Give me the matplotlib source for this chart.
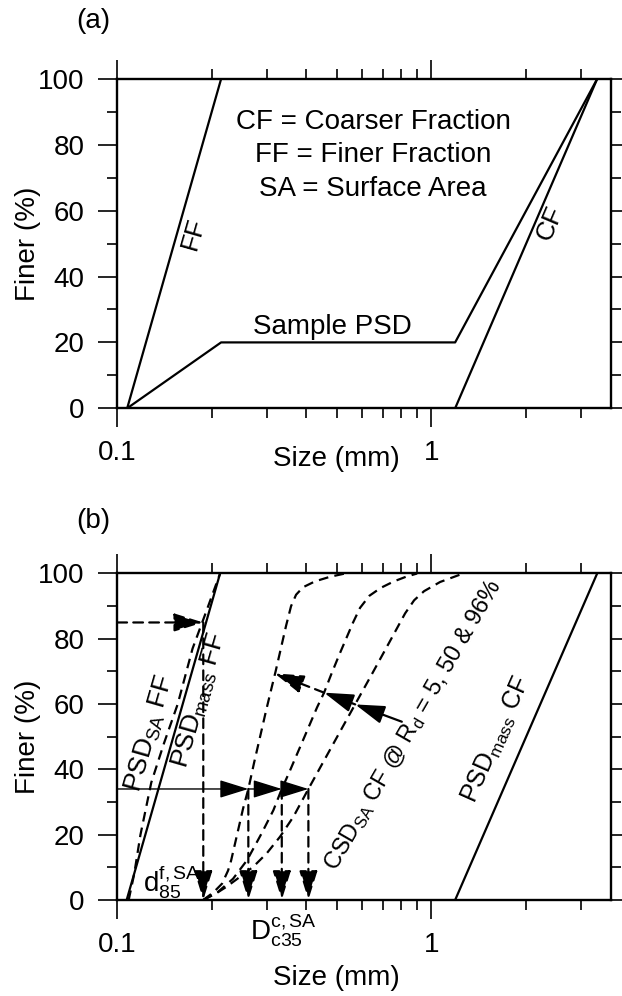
import matplotlib
matplotlib.use('Agg')
import matplotlib.pyplot as plt
from matplotlib.ticker import NullFormatter

plt.rcParams['font.family'] = ['Liberation Sans', 'DejaVu Sans']
plt.rcParams['mathtext.fontset'] = 'custom'
plt.rcParams['mathtext.rm'] = 'Liberation Sans'
plt.rcParams['mathtext.it'] = 'Liberation Sans'
plt.rcParams['mathtext.default'] = 'regular'
plt.rcParams['lines.scale_dashes'] = False
plt.rcParams['font.size'] = 20

#---------------------
# data, panel (a)
#---------------------
ff_a_x = [0.1075, 0.214]
ff_a_y = [0, 100]
sample_x = [0.1075, 0.214, 1.19, 3.37]
sample_y = [0, 20, 20, 100]
cf_a_x = [1.19, 3.37]
cf_a_y = [0, 100]

#---------------------
# data, panel (b)
#---------------------
psd_sa_ff_x = [0.1071, 0.2124]
psd_sa_ff_y = [0, 100]
psd_mass_ff_x = [0.1087, 0.1132, 0.1185, 0.1283, 0.1408, 0.1557, 0.1736, 0.1913, 0.2124]
psd_mass_ff_y = [0, 8, 20, 36, 48, 60, 77, 88, 100]
psd_mass_cf_x = [1.19, 3.37]
psd_mass_cf_y = [0, 100]

# CSD_SA of coarse fraction at Rd = 5, 50, 96 %
csd5_x = [0.1878, 0.2032, 0.2155, 0.2252, 0.2302, 0.2406, 0.2514, 0.2613, 0.2725, 0.2848,
          0.2976, 0.3099, 0.3191, 0.3298, 0.3446, 0.3574, 0.3708, 0.3904, 0.4263, 0.4757, 0.5312]
csd5_y = [0, 2.5, 5, 9, 12, 20, 28, 34, 42, 50, 58, 65, 70, 76, 84, 90, 93.5, 95.8, 97.6, 99, 100]
csd50_x = [0.1878, 0.2093, 0.2336, 0.2589, 0.2884, 0.3140, 0.3339, 0.3523, 0.3708, 0.3904, 0.4109,
           0.4325, 0.4553, 0.4793, 0.5083, 0.5350, 0.5631, 0.5928, 0.6350, 0.6900, 0.7600, 0.8300, 0.9005]
csd50_y = [0, 2.5, 6.5, 12.2, 20.5, 27.5, 34, 39, 44, 49, 54, 59, 63.5, 69, 75, 80, 85, 89.5,
           93.2, 95.6, 97.6, 99, 100]
csd96_x = [0.1878, 0.2062, 0.2231, 0.2459, 0.2711, 0.2991, 0.3298, 0.3636, 0.4058, 0.4421, 0.4973,
           0.5715, 0.6475, 0.7334, 0.8248, 0.8810, 0.9479, 1.0659, 1.2618]
csd96_y = [0, 2, 4.1, 7.1, 10.2, 14.3, 19.4, 25.5, 34, 40.5, 49.4, 59.9, 69.3, 78.8, 87.8, 91.8,
           94.6, 97.4, 100]

# d85 of fine fraction and D35 of the three CSD curves
d85 = 0.1878
d85_level = 85
dc35 = [0.2613, 0.3339, 0.4058]
dc35_level = 34

# arrow along increasing Rd (start, then tips on 96, 50, 5 % curves)
rd_arrow_x = [0.805, 0.5719, 0.4553, 0.3168]
rd_arrow_y = [54.6, 59.9, 63.5, 69.4]

minor_x = [0.2, 0.3, 0.4, 0.5, 0.6, 0.7, 0.8, 0.9, 2, 3]

#---------------------
# figure
#---------------------
fig = plt.figure(figsize=(6.22, 9.96), dpi=100)
ax_a = fig.add_axes([0.1886, 0.5901, 0.7937, 0.3306])
ax_b = fig.add_axes([0.1886, 0.0964, 0.7937, 0.3278])

LW = 1.6
DASH = (0, (7, 4.5))


def style_axes(ax):
    ax.set_xscale('log')
    ax.set_xlim(0.1, 3.73)
    ax.set_ylim(0, 100)
    ax.set_xticks([0.1, 1], ['0.1', '1'])
    ax.set_xticks(minor_x, minor=True)
    ax.xaxis.set_minor_formatter(NullFormatter())
    ax.set_yticks(range(0, 101, 20))
    ax.set_yticks(range(10, 100, 20), minor=True)
    ax.tick_params(which='both', direction='out', top=True, right=True, width=1.2, color='k')
    ax.tick_params(which='major', length=13.7, pad=9)
    ax.tick_params(axis='y', which='major', pad=10)
    ax.tick_params(which='minor', length=7.2)
    for s in ax.spines.values():
        s.set_linewidth(1.7)
    ax.set_ylabel('Finer (%)')
    ax.yaxis.set_label_coords(-0.155, 0.5)


def arrow(ax, x0, y0, x1, y1, ls='-', lw=LW):
    ax.annotate('', xy=(x1, y1), xytext=(x0, y0), annotation_clip=False,
                arrowprops=dict(arrowstyle='-|>,head_length=0.9,head_width=0.28',
                                mutation_scale=20, shrinkA=0, shrinkB=0,
                                lw=lw, ls=ls, color='k', fc='k'))


# (a)
style_axes(ax_a)
ax_a.plot(ff_a_x, ff_a_y, 'k-', lw=LW)
ax_a.plot(sample_x, sample_y, 'k-', lw=LW)
ax_a.plot(cf_a_x, cf_a_y, 'k-', lw=LW)
ax_a.set_xlabel('Size (mm)')
ax_a.xaxis.set_label_coords(0.443, -0.115)

tr = ax_a.transAxes
ax_a.text(0.518, 0.870, 'CF = Coarser Fraction', transform=tr, ha='center', va='center')
ax_a.text(0.518, 0.769, 'FF = Finer Fraction', transform=tr, ha='center', va='center')
ax_a.text(0.518, 0.667, 'SA = Surface Area', transform=tr, ha='center', va='center')
ax_a.text(0.436, 0.247, 'Sample PSD', transform=tr, ha='center', va='center')
ax_a.text(0.154, 0.530, 'FF', transform=tr, ha='center', va='center', rotation=74,
          rotation_mode='anchor', fontsize=19)
ax_a.text(0.876, 0.561, 'CF', transform=tr, ha='center', va='center', rotation=67,
          rotation_mode='anchor', fontsize=19)

# (b)
style_axes(ax_b)
ax_b.plot(psd_sa_ff_x, psd_sa_ff_y, 'k-', lw=LW)
ax_b.plot(psd_mass_ff_x, psd_mass_ff_y, color='k', ls=DASH, lw=LW)
ax_b.plot(psd_mass_cf_x, psd_mass_cf_y, 'k-', lw=LW)
for cx, cy in [(csd5_x, csd5_y), (csd50_x, csd50_y), (csd96_x, csd96_y)]:
    ax_b.plot(cx, cy, color='k', ls=DASH, lw=LW)

# d85 construction
arrow(ax_b, 0.1, d85_level, d85, d85_level, ls=DASH)
arrow(ax_b, d85, d85_level, d85, 0, ls=DASH)

# D35 construction
prev = 0.1
for x in dc35:
    arrow(ax_b, prev, dc35_level, x, dc35_level, lw=1.0)
    arrow(ax_b, x, dc35_level, x, 0, ls=DASH)
    prev = x

# Rd arrow
arrow(ax_b, rd_arrow_x[0], rd_arrow_y[0], rd_arrow_x[1], rd_arrow_y[1])
arrow(ax_b, rd_arrow_x[1], rd_arrow_y[1], rd_arrow_x[2], rd_arrow_y[2])
arrow(ax_b, rd_arrow_x[2], rd_arrow_y[2], rd_arrow_x[3], rd_arrow_y[3], ls=DASH)

ax_b.set_xlabel('Size (mm)')
ax_b.xaxis.set_label_coords(0.443, -0.2)

tr = ax_b.transAxes
ax_b.text(0.066, 0.511, 'PSD$_{SA}$ FF', transform=tr, ha='center', va='center',
          rotation=74, rotation_mode='anchor', fontsize=19)
ax_b.text(0.1675, 0.6126, 'PSD$_{mass}$ FF', transform=tr, ha='center', va='center',
          rotation=74, rotation_mode='anchor', fontsize=19)
ax_b.text(0.600, 0.536, 'CSD$_{SA}$ CF @ R$_{d}$ = 5, 50 & 96%', transform=tr, ha='center',
          va='center', rotation=60, rotation_mode='anchor', fontsize=17)
ax_b.text(0.768, 0.490, 'PSD$_{mass}$ CF', transform=tr, ha='center', va='center',
          rotation=66, rotation_mode='anchor', fontsize=18)
ax_b.text(0.052, 0.0254, '$d^{f,SA}_{85}$', transform=tr, ha='left', va='baseline')
ax_b.text(0.269, -0.1225, '$D^{c,SA}_{c35}$', transform=tr, ha='left', va='baseline',
          clip_on=False)

fig.text(93 / 622, 1 - 21 / 996, '(a)', ha='center', va='center')
fig.text(93 / 622, 1 - 521 / 996, '(b)', ha='center', va='center')

fig.savefig('out.png', dpi=100)
